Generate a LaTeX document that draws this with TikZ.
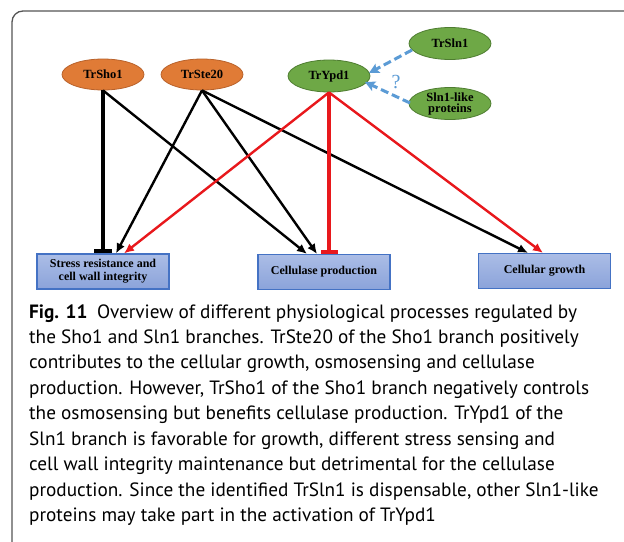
\documentclass[tikz,border=0pt]{standalone}
\usepackage{fontspec}
\setmainfont{Liberation Serif}
\newfontfamily\capfont{PT Sans}
\usetikzlibrary{shapes.geometric,arrows.meta,calc}
\definecolor{orfill}{HTML}{E07B36}
\definecolor{ordraw}{HTML}{B8612A}
\definecolor{grfill}{HTML}{6EA846}
\definecolor{grdraw}{HTML}{4E7D30}
\definecolor{bxtop}{HTML}{ABBDE6}
\definecolor{bxbot}{HTML}{8BA3DA}
\definecolor{bxdraw}{HTML}{4472C4}
\definecolor{arred}{HTML}{E8181C}
\definecolor{dashblue}{HTML}{5B9BD5}
\definecolor{framegray}{HTML}{555555}
\tikzset{
  orangeell/.style={ellipse, draw=ordraw, line width=0.8pt, fill=orfill, minimum width=82pt, minimum height=31pt, inner sep=0pt, font=\fontsize{12.5}{13}\selectfont\bfseries},
  greenell/.style={ellipse, draw=grdraw, line width=0.8pt, fill=grfill, minimum width=82pt, minimum height=32pt, inner sep=0pt, font=\fontsize{12.5}{13}\selectfont\bfseries, align=center},
  procbox/.style={rectangle, draw=bxdraw, line width=1.2pt, top color=bxtop, bottom color=bxbot, minimum width=132pt, minimum height=35pt, inner sep=0pt, align=center, font=\fontsize{12}{13}\selectfont\bfseries},
  blkarr/.style={black, line width=2.4pt, -{Latex[length=10pt,width=9pt]}},
  redarr/.style={arred, line width=2.4pt, -{Latex[length=10pt,width=9pt]}},
  blkbar/.style={black, line width=3.4pt, -{Bar[width=18pt,line width=4pt]}},
  redbar/.style={arred, line width=3.2pt, -{Bar[width=17pt,line width=4pt]}},
  dasharr/.style={dashblue, line width=3pt, dash pattern=on 8pt off 4pt, -{Stealth[length=10pt,width=10pt,inset=2pt]}},
  capline/.style={anchor=base west, inner sep=0pt, font=\capfont\fontsize{19.25}{20}\selectfont},
}
\begin{document}
\begin{tikzpicture}[x=1pt,y=-1pt]
\useasboundingbox (0,0) rectangle (624,541);
\fill[white] (0,0) rectangle (624,541);
\draw[framegray, line width=1.3pt, rounded corners=11pt] (12,560) -- (12,11) -- (640,11);

% ellipses
\node[orangeell] (sho) at (103,74.5) {TrSho1};
\node[orangeell] (ste) at (202,74.5) {TrSte20};
\node[greenell] (ypd) at (329,76) {TrYpd1};
\node[greenell] (sln) at (450,43.5) {TrSln1};
\node[greenell] (slnl) at (450,103.5) {Sln1-like\\[-2pt]proteins};

% boxes
\node[procbox] (stress) at (103,271.5) {Stress resistance and\\cell wall integrity};
\node[procbox] (cell) at (324,272) {Cellulase production};
\node[procbox] (grow) at (544.5,271) {Cellular growth};

% end points on box tops
\coordinate (e1) at ($(stress.north)+(0,0)$);
\coordinate (e2) at ($(cell.north)+(-17,0)$);
\coordinate (e3) at ($(stress.north)+(13,0)$);
\coordinate (e4) at ($(cell.north)+(-7,0)$);
\coordinate (e5) at ($(grow.north)+(-16.5,0)$);
\coordinate (e6) at ($(stress.north)+(21,0)$);
\coordinate (e7) at ($(cell.north)+(5,0)$);
\coordinate (e8) at ($(grow.north)+(-1.5,0)$);

% black connectors
\draw[blkbar] (sho.south) -- (e1);
\draw[blkarr] (sho.south) -- (e2);
\draw[blkarr] (ste.south) -- (e3);
\draw[blkarr] (ste.south) -- (e4);
\draw[blkarr] (ste.south) -- (e5);
% red connectors
\draw[redarr] (ypd.south) -- (e6);
\draw[redbar] (ypd.south) -- (e7);
\draw[redarr] (ypd.south) -- (e8);

% dashed blue
\coordinate (s1) at (412,50);
\coordinate (s2) at (410,103);
\coordinate (t1) at (369,73);
\coordinate (t2) at (365,82);
\draw[dasharr] (s1) -- (t1);
\draw[dasharr] (s2) -- (t2);
\node[dashblue, font=\fontsize{20}{20}\selectfont] (q) at (396,82) {?};

% caption
\node[capline] (c1) at (29,318.0) {\textbf{Fig. 11}\enspace Overview of different physiological processes regulated by};
\node[capline] (c2) at (29,343.5) {the Sho1 and Sln1 branches. TrSte20 of the Sho1 branch positively};
\node[capline] (c3) at (29,368.9) {contributes to the cellular growth, osmosensing and cellulase};
\node[capline] (c4) at (29,394.4) {production. However, TrSho1 of the Sho1 branch negatively controls};
\node[capline] (c5) at (29,419.8) {the osmosensing but benefits cellulase production. TrYpd1 of the};
\node[capline] (c6) at (29,445.3) {Sln1 branch is favorable for growth, different stress sensing and};
\node[capline] (c7) at (29,470.7) {cell wall integrity maintenance but detrimental for the cellulase};
\node[capline] (c8) at (29,496.2) {production. Since the identified TrSln1 is dispensable, other Sln1-like};
\node[capline] (c9) at (29,521.6) {proteins may take part in the activation of TrYpd1};
\end{tikzpicture}
\end{document}
